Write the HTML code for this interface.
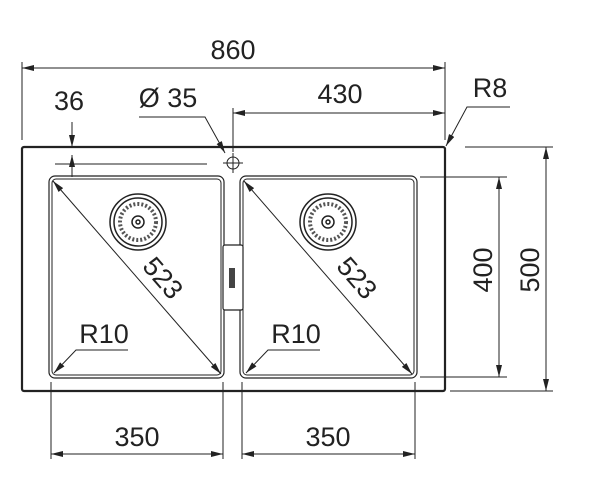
<!DOCTYPE html>
<html><head><style>body{margin:0;background:#fff}svg{display:block}</style></head><body>
<svg width="600" height="497" viewBox="0 0 600 497" xmlns="http://www.w3.org/2000/svg" font-family="Liberation Sans, sans-serif" fill="none" stroke="#222">
<defs>
<marker id="a" viewBox="0 0 12 6" refX="12" refY="3" markerWidth="12" markerHeight="6" markerUnits="userSpaceOnUse" orient="auto-start-reverse"><path d="M0,0L12,3L0,6z" fill="#222" stroke="none"/></marker>
</defs>
<rect x="22" y="147" width="423" height="244" rx="2" stroke-width="2.2"/>
<rect x="49" y="176" width="175" height="202" rx="6" stroke-width="1.2"/>
<rect x="52" y="179" width="169" height="196" rx="4" stroke-width="1"/>
<rect x="240" y="176" width="177" height="202" rx="6" stroke-width="1.2"/>
<rect x="243" y="179" width="171" height="196" rx="4" stroke-width="1"/>
<rect x="223" y="245" width="20" height="65" rx="2" fill="#fff" stroke-width="1.2"/>
<rect x="229" y="268" width="6" height="20" fill="#444" stroke="none"/>
<g stroke-width="1.5">
<circle cx="138" cy="222" r="28"/><circle cx="138" cy="222" r="24"/><circle cx="138" cy="222" r="18" stroke-dasharray="2 2" stroke-width="4" stroke="#555"/><circle cx="138" cy="222" r="6"/><circle cx="138" cy="222" r="2"/>
<circle cx="328" cy="222" r="28"/><circle cx="328" cy="222" r="24"/><circle cx="328" cy="222" r="18" stroke-dasharray="2 2" stroke-width="4" stroke="#555"/><circle cx="328" cy="222" r="6"/><circle cx="328" cy="222" r="2"/>
</g>
<g stroke-width="1">
<line x1="22" y1="140" x2="22" y2="62"/><line x1="445" y1="140" x2="445" y2="62"/>
<line x1="22" y1="68" x2="445" y2="68" marker-start="url(#a)" marker-end="url(#a)"/>
<line x1="233" y1="152" x2="233" y2="108"/>
<line x1="233" y1="113" x2="445" y2="113" marker-start="url(#a)" marker-end="url(#a)"/>
<line x1="72" y1="122" x2="72" y2="147" marker-end="url(#a)"/>
<line x1="72" y1="155" x2="72" y2="177" marker-start="url(#a)"/>
<line x1="55" y1="164" x2="207" y2="164"/>
<polyline points="139,117 205,117 225,153" marker-end="url(#a)"/>
<circle cx="233" cy="163" r="6"/><line x1="223" y1="163" x2="243" y2="163"/><line x1="233" y1="153" x2="233" y2="173"/>
<polyline points="510,107 467,107 446,146" marker-end="url(#a)"/>
<line x1="465" y1="147" x2="553" y2="147"/><line x1="450" y1="391" x2="553" y2="391"/>
<line x1="546" y1="147" x2="546" y2="391" marker-start="url(#a)" marker-end="url(#a)"/>
<line x1="420" y1="177" x2="507" y2="177"/><line x1="420" y1="377" x2="507" y2="377"/>
<line x1="499" y1="177" x2="499" y2="377" marker-start="url(#a)" marker-end="url(#a)"/>
<line x1="51" y1="382" x2="51" y2="459"/><line x1="223" y1="382" x2="223" y2="459"/>
<line x1="51" y1="454" x2="223" y2="454" marker-start="url(#a)" marker-end="url(#a)"/>
<line x1="242" y1="382" x2="242" y2="459"/><line x1="415" y1="382" x2="415" y2="459"/>
<line x1="242" y1="454" x2="415" y2="454" marker-start="url(#a)" marker-end="url(#a)"/>
<line x1="53" y1="181" x2="221" y2="374" marker-start="url(#a)" marker-end="url(#a)"/>
<line x1="244" y1="181" x2="412" y2="374" marker-start="url(#a)" marker-end="url(#a)"/>
<polyline points="128,350 76,350 54,373" marker-end="url(#a)"/>
<polyline points="320,350 268,350 246,373" marker-end="url(#a)"/>
</g>
<g fill="#222" stroke="none" font-size="27">
<text x="233" y="59" text-anchor="middle">860</text>
<text x="340" y="103" text-anchor="middle">430</text>
<text x="69" y="110" text-anchor="middle">36</text>
<text x="168" y="107" text-anchor="middle">Ø 35</text>
<text x="490" y="97" text-anchor="middle">R8</text>
<text x="104" y="343" text-anchor="middle">R10</text>
<text x="296" y="343" text-anchor="middle">R10</text>
<text x="137" y="446" text-anchor="middle">350</text>
<text x="328" y="446" text-anchor="middle">350</text>
<text transform="translate(492,270) rotate(-90)" text-anchor="middle">400</text>
<text transform="translate(539,270) rotate(-90)" text-anchor="middle">500</text>
<text transform="translate(156,284) rotate(49)" text-anchor="middle">523</text>
<text transform="translate(350,284) rotate(49)" text-anchor="middle">523</text>
</g>
</svg>
</body></html>
